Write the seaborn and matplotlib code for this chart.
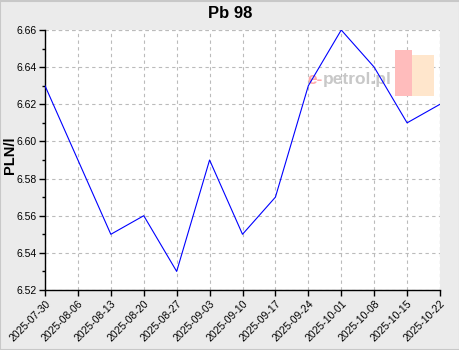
import matplotlib
matplotlib.use("Agg")
import matplotlib.pyplot as plt
import seaborn as sns
import pandas as pd
from matplotlib.ticker import MultipleLocator
from matplotlib import font_manager

dates = ["2025-07-30", "2025-08-06", "2025-08-13", "2025-08-20", "2025-08-27",
         "2025-09-03", "2025-09-10", "2025-09-17", "2025-09-24", "2025-10-01",
         "2025-10-08", "2025-10-15", "2025-10-22"]
prices = [6.63, 6.59, 6.55, 6.56, 6.53, 6.59, 6.55, 6.57, 6.63, 6.66, 6.64, 6.61, 6.62]
yticks = [6.52, 6.54, 6.56, 6.58, 6.60, 6.62, 6.64, 6.66]

sns.set_style("white")
plt.rcParams['font.family'] = ['Liberation Sans', 'DejaVu Sans']
plt.rcParams['text.color'] = 'black'
plt.rcParams['xtick.color'] = 'black'
plt.rcParams['ytick.color'] = 'black'
plt.rcParams['axes.labelcolor'] = 'black'

names = {f.name for f in font_manager.fontManager.ttflist}
wm_family = 'Liberation Sans Narrow' if 'Liberation Sans Narrow' in names else 'Liberation Sans'
wm_size = 16 if wm_family == 'Liberation Sans Narrow' else 12.5

df = pd.DataFrame({"date": pd.to_datetime(dates), "price": prices})

fig = plt.figure(figsize=(4.6, 3.5), dpi=100, facecolor="#ebebeb")
ax = fig.add_axes([45/460, 1-290/350, 395/460, 260/350])
ax.set_facecolor("white")

# watermark (beneath the line)
ax.add_patch(plt.Rectangle((0.886, 0.745), 0.044, 0.178, transform=ax.transAxes,
                           facecolor="#ffbcbc", edgecolor="none", zorder=1))
ax.add_patch(plt.Rectangle((0.930, 0.745), 0.055, 0.16, transform=ax.transAxes,
                           facecolor="#ffe6cc", edgecolor="none", zorder=1))
t2 = ax.text(0.878, 0.81, "petrol.pl", transform=ax.transAxes, fontsize=wm_size, color="#c8c8c8",
             ha="right", va="center", zorder=1, family=wm_family, fontweight="bold")
ax.annotate("e-", xy=(0, 0.5), xycoords=t2, fontsize=wm_size, color="#ffaaaa",
            ha="right", va="center", zorder=1, family=wm_family, fontweight="bold")

sns.lineplot(data=df, x="date", y="price", ax=ax, color="#0000ff", linewidth=0.8, zorder=3)

ax.set_xlim(df["date"].iloc[0], df["date"].iloc[-1])
ax.set_ylim(yticks[0], yticks[-1])
ax.set_xticks(df["date"])
ax.set_xticklabels(dates, rotation=45, ha="right", rotation_mode="anchor", fontsize=7.5)
ax.set_yticks(yticks)
ax.set_yticklabels([f"{v:.2f}" for v in yticks], fontsize=7.5)
ax.yaxis.set_minor_locator(MultipleLocator(0.01))
ax.tick_params(axis="both", which="major", direction="out", length=4, width=1, color="black", pad=2, bottom=True, left=True)
ax.tick_params(axis="y", which="minor", direction="out", length=2.5, width=1, color="black", left=True)

ax.grid(True, which="major", linestyle=(0, (3, 3)), color="#bbbbbb", linewidth=0.8, zorder=0)
for s in ["top", "right"]:
    ax.spines[s].set_visible(False)
for s in ["left", "bottom"]:
    ax.spines[s].set_color("black")
    ax.spines[s].set_linewidth(1)

ax.axhline(yticks[-1], linestyle=(0, (3, 3)), color="#bbbbbb", linewidth=0.8, zorder=0)
ax.axvline(df["date"].iloc[-1], linestyle=(0, (3, 3)), color="#bbbbbb", linewidth=0.8, zorder=0)

ax.set_xlabel("")
ax.set_ylabel("")
fig.text(10/460, 1-155/350, "PLN/l", rotation=90, ha="center", va="center",
         fontsize=10.5, fontweight="bold")
fig.text(0.5, 1-13/350, "Pb 98", ha="center", va="center", fontsize=12, fontweight="bold")

fig.patches.append(plt.Rectangle((0.001, 0.001), 0.998, 0.997, transform=fig.transFigure,
                                 fill=False, edgecolor="#c8c8c8", linewidth=1.5))

fig.savefig("out.png", dpi=100, facecolor=fig.get_facecolor())
